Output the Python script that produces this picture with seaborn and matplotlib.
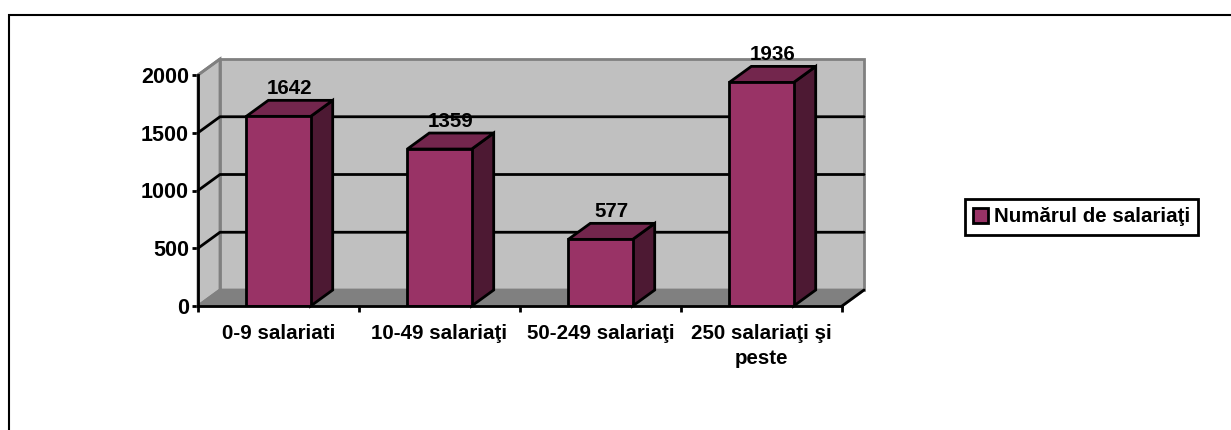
import matplotlib
matplotlib.use('Agg')
import matplotlib.pyplot as plt
from matplotlib.patches import Polygon, Rectangle
import seaborn as sns
import pandas as pd

categories = ['0-9 salariati', '10-49 salariaţi', '50-249 salariaţi', '250 salariaţi şi\npeste']
values = [1642, 1359, 577, 1936]
series_name = 'Numărul de salariaţi'
yticks = [0, 500, 1000, 1500, 2000]

FRONT = '#993366'
TOP = '#73264D'
SIDE = '#4D1933'
WALL = '#C0C0C0'
FLOOR = '#808080'
LW = 2.0
FS = 14.8

sns.set_theme(style='white')
plt.rcParams['font.family'] = ['Liberation Sans', 'DejaVu Sans']
plt.rcParams['font.weight'] = 'bold'
plt.rcParams['font.size'] = FS
plt.rcParams['text.color'] = 'black'

W, H = 1231, 430
fig = plt.figure(figsize=(W / 100, H / 100), dpi=100)
ax = fig.add_axes([198 / W, (H - 306) / H, 644 / W, 231 / H])

df = pd.DataFrame({'category': categories, 'value': values})
sns.barplot(data=df, x='category', y='value', color=FRONT, saturation=1, width=0.40,
            edgecolor='black', linewidth=LW, label=series_name, ax=ax, zorder=4)
ax.set_xlim(-0.5, 3.5)
ax.set_ylim(0, 2000)
ax.set_xlabel('')
ax.set_ylabel('')

# depth of the fake 3d box, in data units
dx = 22 / 161
dy = 16 / 231 * 2000
x0, x1 = ax.get_xlim()
y0, y1 = ax.get_ylim()


def face(points, fc, ec, z, lw=LW):
    ax.add_patch(Polygon(points, closed=True, facecolor=fc, edgecolor=ec, linewidth=lw,
                         joinstyle='miter', clip_on=False, zorder=z))


# walls and floor
face([(x0, y0), (x0 + dx, y0 + dy), (x0 + dx, y1 + dy), (x0, y1)], WALL, FLOOR, 1)
face([(x0 + dx, y0 + dy), (x1 + dx, y0 + dy), (x1 + dx, y1 + dy), (x0 + dx, y1 + dy)], WALL, FLOOR, 1)
face([(x0, y0), (x1, y0), (x1 + dx, y0 + dy), (x0 + dx, y0 + dy)], FLOOR, FLOOR, 1.1)
ax.plot([x1, x1 + dx], [y0, y0 + dy], color='black', lw=LW, clip_on=False, zorder=1.5)

# gridlines run along the left wall and the back wall
for t in yticks[1:-1]:
    ax.plot([x0, x0 + dx, x1 + dx], [t, t + dy, t + dy], color='black', lw=LW, clip_on=False, zorder=1.5)
ax.plot([x0, x0 + dx], [y1, y1 + dy], color=FLOOR, lw=LW, clip_on=False, zorder=1.5)

# bar sides, tops and value labels
for bar, v in zip(ax.patches, values):
    left = bar.get_x()
    right = left + bar.get_width()
    face([(right, 0), (right + dx, dy), (right + dx, v + dy), (right, v)], SIDE, 'black', 3)
    face([(left, v), (right, v), (right + dx, v + dy), (left + dx, v + dy)], TOP, 'black', 3)
    ax.annotate(str(v), (left + bar.get_width() / 2 + dx / 2, v + dy), xytext=(0, 1.5),
                textcoords='offset points', ha='center', va='bottom', annotation_clip=False, zorder=5,
                color='black', fontweight='bold')

# axes lines and ticks
for s in ['top', 'right']:
    ax.spines[s].set_visible(False)
for s in ['left', 'bottom']:
    ax.spines[s].set_linewidth(LW)
    ax.spines[s].set_color('black')
    ax.spines[s].set_zorder(6)
ax.set_facecolor('none')
ax.set_yticks(yticks)
ax.set_xticks([x0, 0.5, 1.5, 2.5, x1])
ax.set_xticks(range(len(categories)), categories, minor=True)
ax.set_xticklabels([])
ax.tick_params(axis='x', which='major', length=4.5, width=LW, color='black', bottom=True)
ax.tick_params(axis='x', which='minor', length=0, pad=13, labelsize=FS, bottom=True)
ax.tick_params(axis='y', length=4.5, width=LW, color='black', left=True, pad=2, labelsize=15.5)
for lab in ax.get_xticklabels(minor=True) + ax.get_yticklabels():
    lab.set_fontweight('bold')
    lab.set_color('black')
for lab in ax.get_xticklabels(minor=True):
    lab.set_linespacing(1.4)

leg = ax.legend(loc='center left', bbox_to_anchor=(965 / W, (H - 217) / H), bbox_transform=fig.transFigure,
                frameon=True, fancybox=False, edgecolor='black', framealpha=1,
                handlelength=0.7, handleheight=0.7, handletextpad=0.3, borderpad=0.4, borderaxespad=0,
                prop={'weight': 'bold', 'size': FS})
leg.get_frame().set_linewidth(LW)
for h in leg.get_patches():
    h.set_edgecolor('black')
    h.set_linewidth(LW)

# chart area border, runs off the right and bottom of the image
fig.add_artist(Rectangle((8.5 / W, -0.1), 1.2, (H - 15.5) / H + 0.1, transform=fig.transFigure,
                         facecolor='none', edgecolor='black', linewidth=1.5))

fig.savefig('out.png', dpi=100, facecolor='white')
